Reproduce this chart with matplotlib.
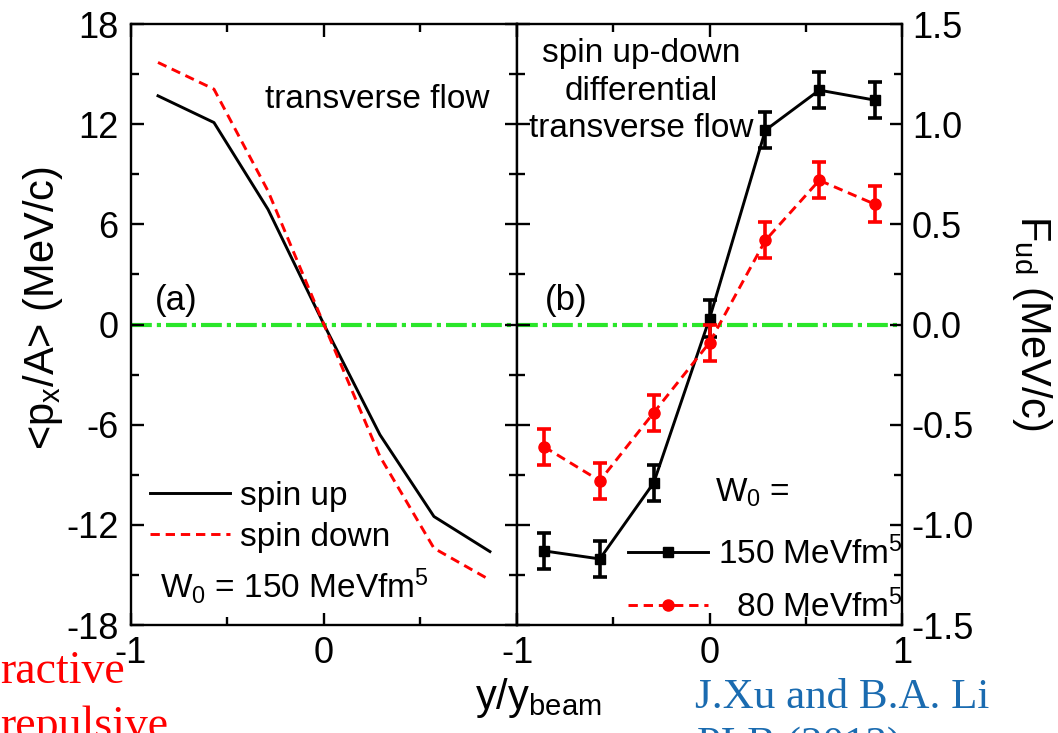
import numpy as np
import matplotlib
matplotlib.use('Agg')
import matplotlib.pyplot as plt
from matplotlib.ticker import MultipleLocator, FormatStrFormatter

plt.rcParams['font.family'] = ['Liberation Sans', 'DejaVu Sans']
plt.rcParams['mathtext.fontset'] = 'custom'
plt.rcParams['mathtext.rm'] = 'Liberation Sans'
plt.rcParams['mathtext.it'] = 'Liberation Sans:italic'
plt.rcParams['mathtext.default'] = 'regular'
plt.rcParams['axes.unicode_minus'] = False

# rapidity bins y/y_beam
rap = [-0.86, -0.57, -0.29, 0.0, 0.29, 0.57, 0.86]

# panel (a): <px/A> in MeV/c
spin_up = [13.7, 12.1, 6.9, 0.0, -6.6, -11.5, -13.6]
spin_down = [15.7, 14.1, 8.0, 0.0, -7.9, -13.4, -15.3]

# panel (b): F_ud in MeV/c
fud_150 = [-1.13, -1.17, -0.79, 0.03, 0.97, 1.17, 1.12]
err_150 = [0.09, 0.09, 0.09, 0.09, 0.09, 0.09, 0.09]
fud_80 = [-0.61, -0.78, -0.44, -0.09, 0.42, 0.72, 0.60]
err_80 = [0.09, 0.09, 0.09, 0.09, 0.09, 0.09, 0.09]

FS = 26
green = '#2ae62a'

fig = plt.figure(figsize=(10.58, 7.33), dpi=100)
ax1 = fig.add_axes([0.1238, 0.1473, 0.3648, 0.8199])
ax2 = fig.add_axes([0.4887, 0.1473, 0.3639, 0.8199])

# ---------------- panel (a) ----------------
ax1.axhline(0, color=green, lw=3, ls=(0, (5, 1.2, 1, 1.2)), zorder=1)
ax1.plot(rap, spin_up, color='black', lw=2.1, label='spin up', zorder=3)
ax1.plot(rap, spin_down, color='red', lw=2.1, ls=(0, (3.2, 2)),
         label='spin down', zorder=3)

ax1.set_xlim(-1, 1)
ax1.set_ylim(-18, 18)
ax1.set_xticks([-1, 0, 1])
ax1.set_xticklabels(['-1', '0', ''])
ax1.set_yticks(np.arange(-18, 19, 6))
ax1.xaxis.set_minor_locator(MultipleLocator(0.5))
ax1.yaxis.set_minor_locator(MultipleLocator(3))

ax1.text(0.347, 0.860, 'transverse flow', transform=ax1.transAxes,
         fontsize=24, ha='left', va='baseline')
ax1.text(0.062, 0.524, '(a)', transform=ax1.transAxes,
         fontsize=25, ha='left', va='baseline')
ax1.text(0.075, 0.045, 'W$_0$ = 150 MeVfm$^5$', transform=ax1.transAxes,
         fontsize=24, ha='left', va='baseline')

ax1.legend(loc='center left', bbox_to_anchor=(0.049, 0.18), frameon=False,
           fontsize=24, handlelength=2.4, handletextpad=0.3,
           labelspacing=0.3, borderpad=0, borderaxespad=0)

# ---------------- panel (b) ----------------
ax2.axhline(0, color=green, lw=3, ls=(0, (5, 1.2, 1, 1.2)), zorder=1)
ax2.errorbar(rap, fud_150, yerr=err_150, fmt='none', ecolor='black',
             elinewidth=2.6, capsize=4.8, capthick=2.6, zorder=3)
ax2.plot(rap, fud_150, color='black', lw=2.1, marker='s', ms=7,
         label='150 MeVfm$^5$', zorder=3)
ax2.errorbar(rap, fud_80, yerr=err_80, fmt='none', ecolor='red',
             elinewidth=2.6, capsize=4.8, capthick=2.6, zorder=4)
ax2.plot(rap, fud_80, color='red', lw=2.1, ls=(0, (3.2, 2)), marker='o',
         ms=8, label='  80 MeVfm$^5$', zorder=4)

ax2.set_xlim(-1, 1)
ax2.set_ylim(-1.5, 1.5)
ax2.set_xticks([-1, 0, 1])
ax2.set_xticklabels(['-1', '0', '1'])
ax2.set_yticks(np.arange(-1.5, 1.51, 0.5))
ax2.yaxis.set_major_formatter(FormatStrFormatter('%.1f'))
ax2.xaxis.set_minor_locator(MultipleLocator(0.5))
ax2.yaxis.set_minor_locator(MultipleLocator(0.25))

ax2.text(0.322, 0.977, 'spin up-down\ndifferential\ntransverse flow',
         transform=ax2.transAxes, fontsize=24, ha='center', va='top',
         linespacing=1.28)
ax2.text(0.073, 0.524, '(b)', transform=ax2.transAxes,
         fontsize=25, ha='left', va='baseline')
ax2.text(0.514, 0.205, 'W$_0$ =', transform=ax2.transAxes,
         fontsize=24, ha='left', va='baseline')

ax2.legend(loc='center left', bbox_to_anchor=(0.288, 0.075), frameon=False,
           fontsize=24, handlelength=2.4, handletextpad=0.3, numpoints=1,
           labelspacing=0.55, borderpad=0, borderaxespad=0)

# ---------------- common styling ----------------
for ax in (ax1, ax2):
    for sp in ax.spines.values():
        sp.set_linewidth(1.7)
    ax.tick_params(which='both', direction='in', top=True, right=True,
                   left=True, width=1.7, labelsize=FS)
    ax.tick_params(which='major', length=9)
    ax.tick_params(which='minor', length=5.5)
    ax.tick_params(axis='x', pad=8)

ax1.tick_params(axis='y', pad=9)
ax2.tick_params(axis='y', labelleft=False, labelright=True, pad=7)

fig.text(43 / 1058, 1 - 308 / 733, '<p$_x$/A> (MeV/c)', fontsize=30,
         rotation=90, ha='center', va='center')
fig.text(1032 / 1058, 1 - 323 / 733, 'F$_{ud}$ (MeV/c)', fontsize=30,
         rotation=-90, ha='center', va='center')
fig.text(538 / 1058, 1 - 698 / 733, 'y/y$_{beam}$', fontsize=30,
         ha='center', va='center')

# leftover slide annotations
serif = ['Liberation Serif', 'DejaVu Serif']
fig.text(125 / 1058, 1 - 683 / 733, 'ractive', fontsize=33, color='red',
         family=serif, ha='right', va='baseline')
fig.text(0.0, 1 - 738 / 733, 'repulsive', fontsize=33, color='red',
         family=serif, ha='left', va='baseline')
fig.text(695 / 1058, 1 - 708 / 733, 'J.Xu and B.A. Li', fontsize=31,
         color='#1a6bb0', family=serif, ha='left', va='baseline')
fig.text(697 / 1058, 1 - 756 / 733, 'PLB (2013)', fontsize=31,
         color='#1a6bb0', family=serif, ha='left', va='baseline')

fig.savefig('out.png', dpi=100)
